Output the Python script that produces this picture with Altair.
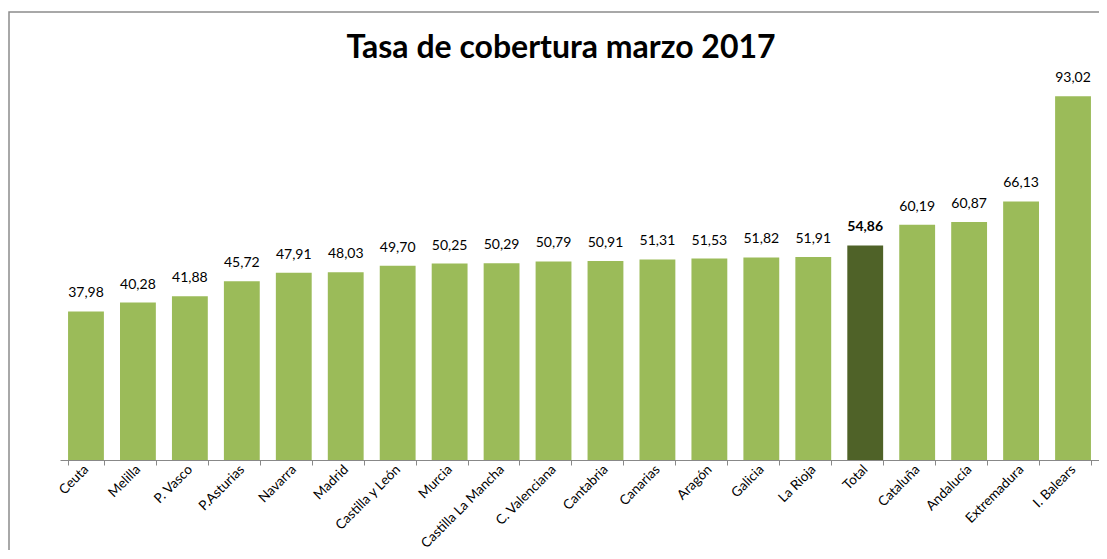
import altair as alt
import pandas as pd

regiones = ["Ceuta", "Melilla", "P. Vasco", "P.Asturias", "Navarra", "Madrid",
            "Castilla y León", "Murcia", "Castilla La Mancha", "C. Valenciana",
            "Cantabria", "Canarias", "Aragón", "Galicia", "La Rioja", "Total",
            "Cataluña", "Andalucía", "Extremadura", "I. Balears"]
tasas = [37.98, 40.28, 41.88, 45.72, 47.91, 48.03, 49.70, 50.25, 50.29, 50.79,
         50.91, 51.31, 51.53, 51.82, 51.91, 54.86, 60.19, 60.87, 66.13, 93.02]
titulo = "Tasa de  cobertura marzo 2017"

df = pd.DataFrame({"region": regiones, "tasa": tasas})

FONT = "Lato"

base = alt.Chart(df).encode(
    x=alt.X("region:N", sort=regiones,
            scale=alt.Scale(paddingInner=0.31, paddingOuter=0.155),
            axis=alt.Axis(title=None, labelAngle=-45, labelAlign="right",
                          labelBaseline="middle", labelFont=FONT, labelFontSize=13.5,
                          labelColor="#000000", labelPadding=2, tickBand="extent",
                          tickSize=5, tickColor="#888888", domainColor="#888888",
                          labelOverlap=False)),
    y=alt.Y("tasa:Q", scale=alt.Scale(domain=[0, 100]), axis=None),
)

bars = base.mark_bar().encode(
    color=alt.condition("datum.region == 'Total'", alt.value("#4F6228"), alt.value("#9BBB59"))
)

labels = base.mark_text(baseline="alphabetic", dy=-14, font=FONT, fontSize=14,
                        color="#000000").encode(
    text="label:N",
).transform_calculate(
    label="replace(format(datum.tasa, '.2f'), '.', ',')"
).transform_filter("datum.region != 'Total'")

labels_total = base.mark_text(baseline="alphabetic", dy=-14, font=FONT, fontSize=14,
                              fontWeight="bold", color="#000000").encode(
    text="label:N",
).transform_calculate(
    label="replace(format(datum.tasa, '.2f'), '.', ',')"
).transform_filter("datum.region == 'Total'")

one = pd.DataFrame({"t": [titulo]})

frame = alt.Chart(one).mark_rect(
    fill=None, stroke="#8c8c8c", strokeWidth=1.5
).encode(x=alt.value(-51), x2=alt.value(1100), y=alt.value(-57), y2=alt.value(600))

title = alt.Chart(one).mark_text(
    font=FONT, fontSize=32, fontWeight="bold", color="#000000",
    align="center", baseline="alphabetic"
).encode(text="t:N", x=alt.value(501), y=alt.value(-11))

chart = alt.layer(frame, title, bars, labels, labels_total).properties(
    width=1039, height=391,
    autosize=alt.AutoSizeParams(type="none"),
    padding={"left": 52, "top": 61, "right": 0, "bottom": 90},
).configure_view(stroke=None)

chart.save("out.html", embed_options={"renderer": "svg", "actions": False})
